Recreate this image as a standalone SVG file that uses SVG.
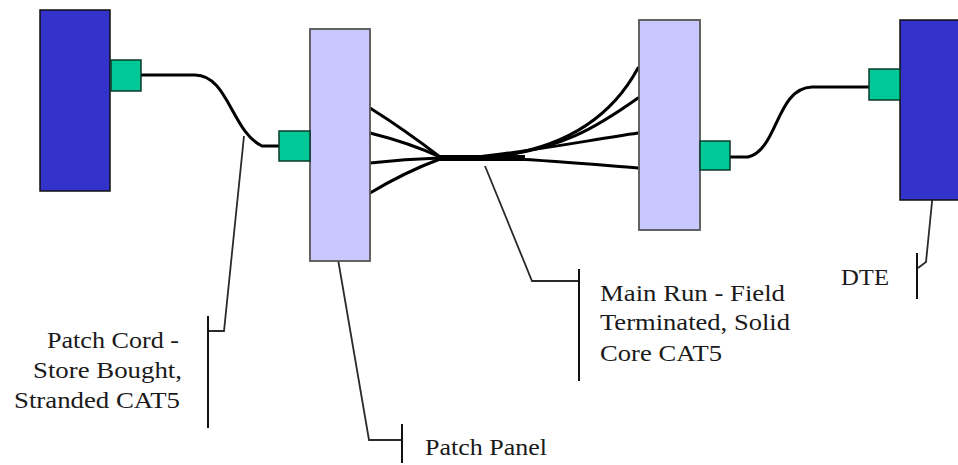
<svg xmlns="http://www.w3.org/2000/svg" width="958" height="465" viewBox="0 0 958 465">
<style>
.dte{fill:#3333cc;stroke:#111;stroke-width:1.5}
.panel{fill:#c8c8ff;stroke:#555;stroke-width:1.8}
.jack{fill:#00c896;stroke:#0b3a2a;stroke-width:1.5}
.cable{fill:none;stroke:#000;stroke-width:3;stroke-linecap:round}
.lead{fill:none;stroke:#2a2a2a;stroke-width:1.8}
.bar{fill:none;stroke:#111;stroke-width:2}
.lbl{font-family:"Liberation Serif","Times New Roman",serif;font-size:23px;fill:#1a1a1a}
</style>
<rect width="958" height="465" fill="#fff"/>
<g id="connectors">
<path class="cable" d="M141,75 L195,75 C228,75 232,132 262,146 L280,146"/>
<path class="cable" d="M730,157 L748,157 C778,150 776,88 812,87 L869,87"/>
<path class="cable" d="M370,108 Q405,130 440,157"/>
<path class="cable" d="M370,133 Q410,143 440,157"/>
<path class="cable" d="M370,163 Q405,159 440,158"/>
<path class="cable" d="M370,193 Q405,172 440,159"/>
<path fill="none" stroke="#000" stroke-width="6" d="M438,158 L525,158"/>
<path class="cable" d="M480,158 C560,152 610,120 638,68"/>
<path class="cable" d="M480,158 C560,152 600,125 638,98"/>
<path class="cable" d="M470,158 C540,150 590,140 638,133"/>
<path class="cable" d="M500,158 C560,161 600,165 638,168"/>
<path class="lead" d="M244,136 L224,331 L208,331"/>
<path class="lead" d="M336,249 L339,265 L369,440 L402,440"/>
<path class="lead" d="M485,166 L532,281 L579,281"/>
<path class="lead" d="M933,192 L926,262 L918,268"/>
</g>
<g id="dte-left"><rect class="dte" x="40" y="10" width="70" height="181"/></g>
<g id="jack-left"><rect class="jack" x="111" y="60" width="30" height="31"/></g>
<g id="patch-panel"><rect class="panel" x="310" y="29" width="60" height="232"/></g>
<g id="jack-panel"><rect class="jack" x="279" y="131" width="31" height="30"/></g>
<g id="panel-right"><rect class="panel" x="639" y="20" width="61" height="210"/></g>
<g id="jack-panel-right"><rect class="jack" x="700" y="141" width="30" height="29"/></g>
<g id="dte-right"><rect class="dte" x="900" y="20" width="70" height="180"/></g>
<g id="jack-dte-right"><rect class="jack" x="869" y="69" width="31" height="31"/></g>
<g id="label-patch-cord">
<path class="bar" d="M208,316 L208,428"/>
<text class="lbl" x="47" y="348" textLength="132" lengthAdjust="spacingAndGlyphs">Patch Cord -</text>
<text class="lbl" x="33" y="378" textLength="149" lengthAdjust="spacingAndGlyphs">Store Bought,</text>
<text class="lbl" x="14" y="408" textLength="166" lengthAdjust="spacingAndGlyphs">Stranded CAT5</text>
</g>
<g id="label-patch-panel">
<path class="bar" d="M402,424 L402,463"/>
<text class="lbl" x="425" y="455" textLength="122" lengthAdjust="spacingAndGlyphs">Patch Panel</text>
</g>
<g id="label-main-run">
<path class="bar" d="M579,269 L579,381"/>
<text class="lbl" x="600" y="301" textLength="185" lengthAdjust="spacingAndGlyphs">Main Run - Field</text>
<text class="lbl" x="600" y="330" textLength="190" lengthAdjust="spacingAndGlyphs">Terminated, Solid</text>
<text class="lbl" x="600" y="361" textLength="122" lengthAdjust="spacingAndGlyphs">Core CAT5</text>
</g>
<g id="label-dte">
<path class="bar" d="M917,253 L917,299"/>
<text class="lbl" x="841" y="285" textLength="48" lengthAdjust="spacingAndGlyphs">DTE</text>
</g>
</svg>
